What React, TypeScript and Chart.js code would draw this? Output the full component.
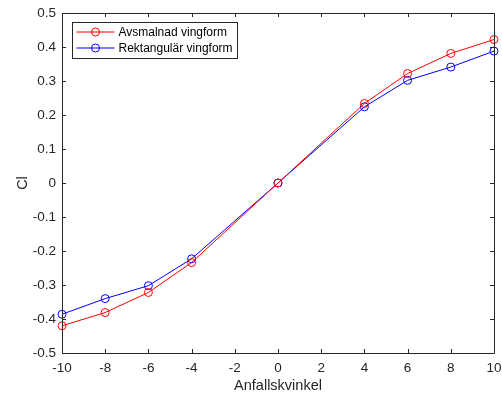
import React, { useEffect, useRef } from "react";
import { Chart, registerables } from "chart.js";

Chart.register(...registerables);

const angles = [-10, -8, -6, -4, 0, 4, 6, 8, 10];
const taperedCl = [-0.42, -0.381, -0.322, -0.234, 0, 0.234, 0.322, 0.381, 0.422];
const rectCl = [-0.386, -0.34, -0.302, -0.223, 0, 0.224, 0.302, 0.341, 0.388];
const seriesLabels = ["Avsmalnad vingform", "Rektangulär vingform"];
const seriesColors = ["#ff0000", "#0000ff"];
const xLabel = "Anfallskvinkel";
const yLabel = "Cl";

const FONT = "'Liberation Sans', Arial, Helvetica, sans-serif";
const AXIS = "#262626";

const boxPlugin = {
  id: "matlabBox",
  afterDatasetsDraw(chart: any) {
    const { ctx, chartArea: a, scales } = chart;
    const xs = scales.x;
    const ys = scales.y;
    ctx.save();
    ctx.strokeStyle = AXIS;
    ctx.lineWidth = 1;
    ctx.beginPath();
    ctx.rect(Math.round(a.left) + 0.5, Math.round(a.top) + 0.5, Math.round(a.right - a.left), Math.round(a.bottom - a.top));
    ctx.stroke();
    const tl = 4;
    ctx.beginPath();
    xs.ticks.forEach((t: any) => {
      const px = Math.round(xs.getPixelForValue(t.value)) + 0.5;
      ctx.moveTo(px, a.bottom);
      ctx.lineTo(px, a.bottom - tl);
      ctx.moveTo(px, a.top);
      ctx.lineTo(px, a.top + tl);
    });
    ys.ticks.forEach((t: any) => {
      const py = Math.round(ys.getPixelForValue(t.value)) + 0.5;
      ctx.moveTo(a.left, py);
      ctx.lineTo(a.left + tl, py);
      ctx.moveTo(a.right, py);
      ctx.lineTo(a.right - tl, py);
    });
    ctx.stroke();

    // legend (inside, north-west)
    const lx = Math.round(a.left) + 10.5;
    const ly = Math.round(a.top) + 9.5;
    const lw = 165;
    const lh = 36;
    ctx.fillStyle = "#ffffff";
    ctx.fillRect(lx, ly, lw, lh);
    ctx.strokeStyle = AXIS;
    ctx.strokeRect(lx, ly, lw, lh);
    ctx.font = `12px ${FONT}`;
    ctx.textBaseline = "middle";
    ctx.textAlign = "left";
    chart.data.datasets.forEach((ds: any, i: number) => {
      const y = ly + 9.5 + i * 16;
      ctx.strokeStyle = ds.borderColor;
      ctx.lineWidth = 1;
      ctx.beginPath();
      ctx.moveTo(lx + 4, y);
      ctx.lineTo(lx + 42, y);
      ctx.stroke();
      ctx.beginPath();
      ctx.arc(lx + 23, y, 4, 0, Math.PI * 2);
      ctx.stroke();
      ctx.fillStyle = "#000000";
      ctx.fillText(ds.label, lx + 46, y + 0.5);
    });
    ctx.restore();
  },
};

export default function App() {
  const ref = useRef<HTMLCanvasElement | null>(null);
  useEffect(() => {
    if (!ref.current) return;
    const chart = new Chart(ref.current, {
      type: "line",
      data: {
        datasets: [taperedCl, rectCl].map((vals, i) => ({
          label: seriesLabels[i],
          data: angles.map((x, j) => ({ x, y: vals[j] })),
          borderColor: seriesColors[i],
          backgroundColor: "rgba(0,0,0,0)",
          borderWidth: 1,
          pointRadius: 4,
          pointBorderWidth: 1,
          pointBorderColor: seriesColors[i],
          pointBackgroundColor: "rgba(0,0,0,0)",
          tension: 0,
          fill: false,
          clip: false,
        })),
      },
      options: {
        animation: false,
        responsive: false,
        events: [],
        layout: { padding: { top: 13, right: 8, left: 0, bottom: 0 } },
        plugins: { legend: { display: false }, tooltip: { enabled: false } },
        scales: {
          x: {
            type: "linear",
            min: -10,
            max: 10,
            grid: { display: false, drawTicks: false },
            border: { display: false },
            ticks: {
              stepSize: 2,
              padding: 7,
              color: AXIS,
              font: { family: FONT, size: 13.5 },
              maxRotation: 0,
              callback: (v: any) => String(v),
            },
            title: {
              display: true,
              text: xLabel,
              color: AXIS,
              font: { family: FONT, size: 14.5 },
              padding: { top: 0, bottom: 3.3 },
            },
            afterFit: (s: any) => {
              s.height = 45;
              s.paddingLeft = 0;
              s.paddingRight = 0;
            },
          },
          y: {
            type: "linear",
            min: -0.5,
            max: 0.5,
            grid: { display: false, drawTicks: false },
            border: { display: false },
            ticks: {
              stepSize: 0.1,
              padding: 6,
              color: AXIS,
              font: { family: FONT, size: 13.5 },
              callback: (v: any) => String(Math.round(v * 10) / 10),
            },
            title: {
              display: true,
              text: yLabel,
              color: AXIS,
              font: { family: FONT, size: 14.5 },
              padding: { top: 13.8, bottom: 0 },
            },
            afterFit: (s: any) => {
              s.width = 62;
              s.paddingTop = 0;
              s.paddingBottom = 0;
            },
          },
        },
      },
      plugins: [boxPlugin],
    } as any);
    return () => chart.destroy();
  }, []);
  return (
    <div style={{ position: "absolute", left: 0, top: 0, width: 502, height: 398, background: "#fff" }}>
      <canvas ref={ref} width={502} height={398} style={{ display: "block" }} />
    </div>
  );
}
